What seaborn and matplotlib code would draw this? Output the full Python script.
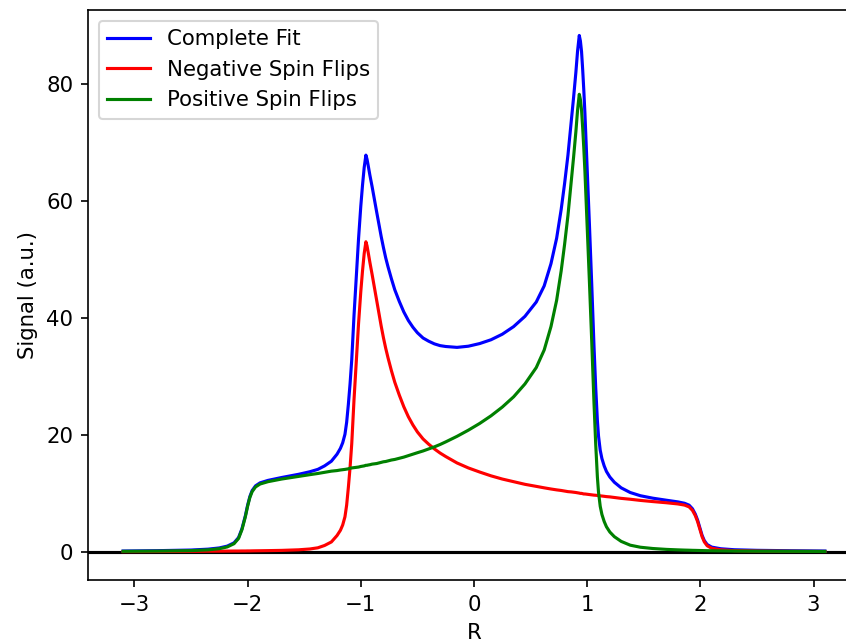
import matplotlib
matplotlib.use("Agg")
import matplotlib.pyplot as plt
import seaborn as sns
import pandas as pd

r_values = [-3.10, -2.80, -2.50, -2.35, -2.25, -2.18, -2.12, -2.08, -2.05, -2.02,
            -2.00, -1.98, -1.96, -1.93, -1.89, -1.82, -1.70, -1.55, -1.45, -1.38,
            -1.32, -1.26, -1.21, -1.18, -1.16, -1.14, -1.125, -1.11, -1.095, -1.08,
            -1.06, -1.04, -1.02, -1.00, -0.985, -0.97, -0.955, -0.945, -0.935, -0.92,
            -0.90, -0.88, -0.86, -0.84, -0.82, -0.80, -0.78, -0.76, -0.73, -0.70,
            -0.66, -0.62, -0.58, -0.54, -0.50, -0.45, -0.40, -0.35, -0.30, -0.25,
            -0.15, -0.05, 0.05, 0.15, 0.25, 0.35, 0.45, 0.55, 0.62, 0.68,
            0.73, 0.77, 0.80, 0.83, 0.86, 0.88, 0.90, 0.915, 0.93, 0.94,
            0.95, 0.96, 0.97, 0.98, 1.00, 1.02, 1.04, 1.06, 1.075, 1.09,
            1.10, 1.115, 1.13, 1.15, 1.17, 1.20, 1.24, 1.30, 1.38, 1.47,
            1.58, 1.70, 1.80, 1.86, 1.90, 1.93, 1.955, 1.975, 1.995, 2.015,
            2.035, 2.06, 2.10, 2.18, 2.30, 2.50, 2.80, 3.10]

positive_flips = [0.10, 0.14, 0.22, 0.35, 0.55, 0.85, 1.4, 2.3, 3.8, 6.0,
                  7.8, 9.3, 10.3, 11.1, 11.6, 12.0, 12.45, 12.9, 13.2, 13.4,
                  13.6, 13.8, 13.9, 14.0, 14.05, 14.1, 14.15, 14.2, 14.3, 14.35,
                  14.4, 14.45, 14.5, 14.6, 14.65, 14.7, 14.8, 14.8, 14.85, 14.9,
                  15.0, 15.05, 15.1, 15.2, 15.3, 15.4, 15.45, 15.55, 15.7, 15.8,
                  16.0, 16.2, 16.45, 16.7, 16.95, 17.25, 17.6, 17.95, 18.35, 18.8,
                  19.75, 20.8, 21.95, 23.25, 24.75, 26.5, 28.7, 31.5, 34.5, 38.5,
                  43.0, 48.0, 52.5, 57.5, 63.5, 67.5, 71.8, 75.5, 78.2, 77.3,
                  75.5, 72.5, 69.0, 65.0, 55.5, 46.0, 36.0, 25.5, 18.5, 12.8,
                  10.2, 7.8, 6.4, 5.2, 4.3, 3.4, 2.6, 1.8, 1.15, 0.8,
                  0.58, 0.43, 0.35, 0.31, 0.29, 0.27, 0.26, 0.25, 0.24, 0.23,
                  0.22, 0.21, 0.20, 0.18, 0.15, 0.12, 0.10, 0.08]

negative_flips = [0.05, 0.07, 0.10, 0.12, 0.13, 0.14, 0.15, 0.15, 0.16, 0.16,
                  0.17, 0.17, 0.18, 0.19, 0.20, 0.22, 0.26, 0.36, 0.50, 0.70,
                  1.1, 1.7, 2.8, 3.7, 4.6, 6.0, 8.0, 11.0, 14.4, 18.5,
                  26.0, 32.5, 39.0, 44.5, 48.0, 51.0, 53.0, 52.3, 51.2, 49.5,
                  47.4, 45.2, 43.0, 40.8, 38.6, 36.6, 34.8, 33.2, 31.0, 29.0,
                  26.8, 24.8, 23.1, 21.7, 20.5, 19.3, 18.4, 17.6, 16.9, 16.3,
                  15.2, 14.35, 13.65, 13.0, 12.45, 12.0, 11.55, 11.2, 10.95, 10.75,
                  10.6, 10.5, 10.4, 10.3, 10.25, 10.2, 10.15, 10.1, 10.05, 10.0,
                  10.0, 9.95, 9.9, 9.9, 9.85, 9.8, 9.75, 9.7, 9.68, 9.65,
                  9.6, 9.58, 9.55, 9.5, 9.45, 9.4, 9.3, 9.15, 9.0, 8.8,
                  8.6, 8.4, 8.2, 8.0, 7.7, 7.1, 6.2, 5.2, 3.9, 2.6,
                  1.7, 1.05, 0.62, 0.36, 0.22, 0.15, 0.10, 0.07]

complete_fit = [0.15, 0.21, 0.32, 0.47, 0.68, 0.99, 1.55, 2.45, 3.96, 6.16,
                7.97, 9.47, 10.48, 11.29, 11.8, 12.22, 12.71, 13.26, 13.7, 14.1,
                14.7, 15.5, 16.7, 17.7, 18.65, 20.1, 22.15, 25.2, 28.7, 32.85,
                40.4, 46.95, 53.5, 59.1, 62.65, 65.7, 67.8, 67.1, 66.05, 64.4,
                62.4, 60.25, 58.1, 56.0, 53.9, 52.0, 50.25, 48.75, 46.7, 44.8,
                42.8, 41.0, 39.55, 38.4, 37.45, 36.55, 36.0, 35.55, 35.25, 35.1,
                34.95, 35.15, 35.6, 36.25, 37.2, 38.5, 40.25, 42.7, 45.45, 49.25,
                53.6, 58.5, 62.9, 67.8, 73.75, 77.7, 81.95, 85.6, 88.25, 87.3,
                85.5, 82.45, 78.9, 74.9, 65.35, 55.8, 45.75, 35.2, 28.18, 22.45,
                19.8, 17.38, 15.95, 14.7, 13.75, 12.8, 11.9, 10.95, 10.15, 9.6,
                9.18, 8.83, 8.55, 8.31, 7.99, 7.37, 6.46, 5.45, 4.14, 2.83,
                1.92, 1.26, 0.82, 0.54, 0.37, 0.27, 0.20, 0.15]

series_names = ["Complete Fit", "Negative Spin Flips", "Positive Spin Flips"]
series_colors = ["blue", "red", "green"]

df = pd.DataFrame({
    "R": r_values,
    "Complete Fit": complete_fit,
    "Negative Spin Flips": negative_flips,
    "Positive Spin Flips": positive_flips,
})

plt.rcParams["font.family"] = ["DejaVu Sans"]
plt.rcParams["font.size"] = 10.2

W, H = 846, 640
fig = plt.figure(figsize=(W / 150, H / 150), dpi=150)
ax = fig.add_axes([88 / W, 60 / H, 772 / W, 570 / H])

ax.axhline(0, color="black", linewidth=1.5, zorder=1)
for name, col in zip(series_names, series_colors):
    sns.lineplot(data=df, x="R", y=name, ax=ax, color=col, label=name,
                 estimator=None, sort=True, linewidth=1.5, zorder=2)

ax.set_xlim(-3.41, 3.41)
ax.set_ylim(-4.8, 92.6)
ax.set_xticks([-3, -2, -1, 0, 1, 2, 3])
ax.set_yticks([0, 20, 40, 60, 80])
ax.set_xlabel("R")
ax.set_ylabel("Signal (a.u.)")
ax.legend(loc="upper left")

fig.savefig("out.png", dpi=150)
